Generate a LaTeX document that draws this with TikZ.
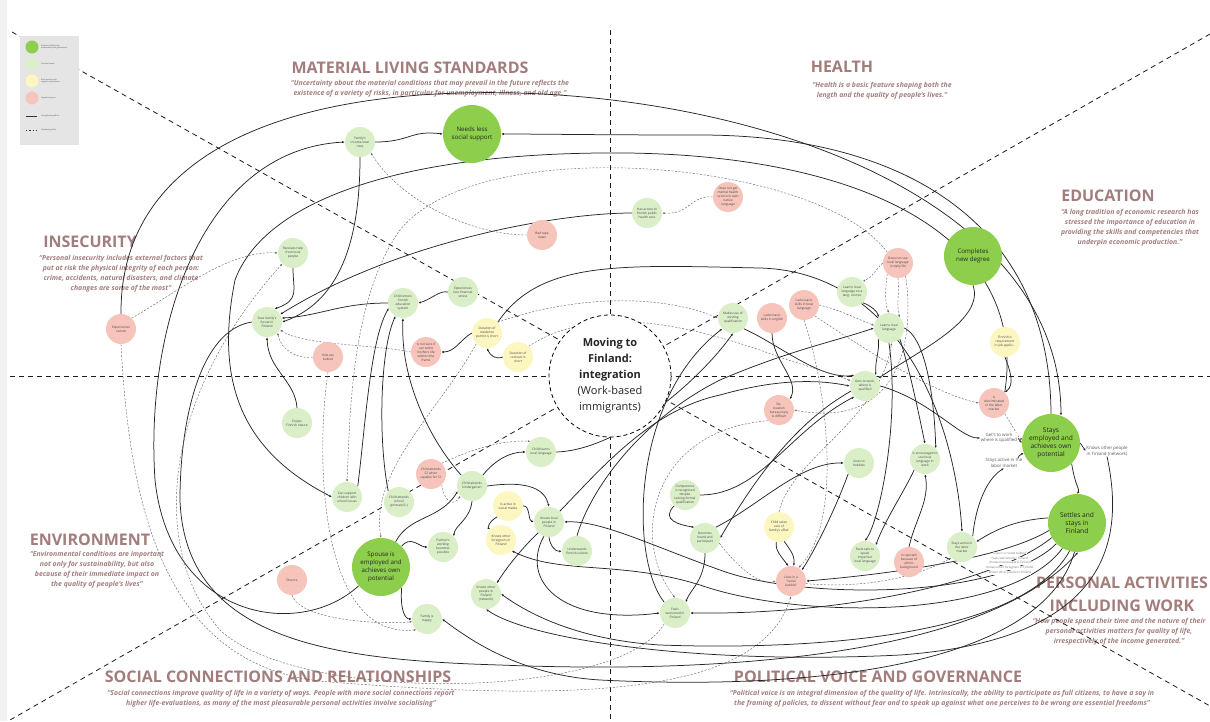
\documentclass[tikz,border=0pt]{standalone}
\usepackage{fontspec}
\setmainfont{Open Sans}
\usetikzlibrary{arrows.meta}
\definecolor{dg}{RGB}{141,206,76}
\definecolor{lg}{RGB}{218,238,200}
\definecolor{yl}{RGB}{252,246,192}
\definecolor{pk}{RGB}{246,196,186}
\definecolor{tt}{RGB}{163,124,124}
\definecolor{tx}{RGB}{70,70,70}
\pgfdeclarelayer{bg}
\pgfsetlayers{bg,main}
\begin{document}
\begin{tikzpicture}[x=1pt,y=-1pt,
  nd/.style={circle,inner sep=0pt,minimum size=30pt,align=center,font=\fontsize{3.2}{4}\selectfont,text=tx},
  lgn/.style={nd,fill=lg}, pkn/.style={nd,fill=pk}, yln/.style={nd,fill=yl},
  dgn/.style={nd,fill=dg,minimum size=58pt,font=\fontsize{6.2}{8}\selectfont,text=black!85},
  sl/.style={draw=black!85,line width=0.75pt,-{Latex[length=2.6pt,width=2.2pt]}},
  dl/.style={draw=black!60,line width=0.45pt,dash pattern=on 2pt off 1.6pt,-{Latex[length=2.4pt,width=2pt]}},
  quad/.style={draw=black!90,line width=0.8pt,dash pattern=on 5pt off 4pt},
  ttl/.style={text=tt,font=\fontsize{16}{18}\selectfont\bfseries,inner sep=0pt},
  qt/.style={text=tt,font=\fontsize{6.9}{10}\selectfont\bfseries\itshape,align=center,inner sep=0pt},
  elab/.style={font=\fontsize{4.4}{5.4}\selectfont,text=black!65,align=center,inner sep=0.6pt,fill=white},
  slab/.style={font=\fontsize{3}{3.4}\selectfont,text=black!55,inner sep=0.2pt,fill=white},
  lgt/.style={font=\fontsize{1.9}{2.4}\selectfont,text=black!70,anchor=west,align=left,inner sep=0pt}
]
\useasboundingbox (0,0) rectangle (1210,721);
\fill[black!5] (0,0) rectangle (7,721);

% ---------- titles, quadrants (background layer)
\begin{pgfonlayer}{bg}
\node[ttl] (t1) at (410,68) {MATERIAL LIVING STANDARDS};
\node[qt] (q1) at (430,89) {“Uncertainty about the material conditions that may prevail in the future reflects the\\existence of a variety of risks, in particular for unemployment, illness, and old age.”};
\node[ttl] (t2) at (842,67) {HEALTH};
\node[qt] (q2) at (882,91) {“Health is a basic feature shaping both the\\length and the quality of people’s lives.”};
\node[ttl] (t3) at (1108,196) {EDUCATION};
\node[qt] (q3) at (1130,228) {“A long tradition of economic research has\\stressed the importance of education in\\providing the skills and competencies that\\underpin economic production.”};
\node[ttl] (t4) at (90,242) {INSECURITY};
\node[qt] (q4) at (121,274) {“Personal insecurity includes external factors that\\put at risk the physical integrity of each person:\\crime, accidents, natural disasters, and climate\\changes are some of the most”};
\node[ttl] (t5) at (90,540) {ENVIRONMENT};
\node[qt] (q5) at (97,570) {“Environmental conditions are important\\not only for sustainability, but also\\because of their immediate impact on\\the quality of people’s lives”};
\node[ttl] (t6) at (278,677) {SOCIAL CONNECTIONS AND RELATIONSHIPS};
\node[qt] (q6) at (281,699) {“Social connections improve quality of life in a variety of ways. People with more social connections report\\higher life-evaluations, as many of the most pleasurable personal activities involve socialising”};
\node[ttl,align=center,font=\fontsize{16}{23}\selectfont\bfseries] (t7) at (1122,594) {PERSONAL ACTIVITIES\\INCLUDING WORK};
\node[qt] (q7) at (1119,632) {“How people spend their time and the nature of their\\personal activities matters for quality of life,\\irrespectively of the income generated.”};
\node[ttl] (t8) at (878,677) {POLITICAL VOICE AND GOVERNANCE};
\node[qt] (q8) at (942,699) {“Political voice is an integral dimension of the quality of life. Intrinsically, the ability to participate as full citizens, to have a say in\\the framing of policies, to dissent without fear and to speak up against what one perceives to be wrong are essential freedoms”};

\coordinate (v1) at (610,30); \coordinate (v2) at (610,721);
\coordinate (h1) at (10,376); \coordinate (h2) at (1210,376);
\coordinate (a1) at (12,32); \coordinate (a2) at (1210,706);
\coordinate (b1) at (1210,34); \coordinate (b2) at (10,720);
\draw[quad] (v1) -- (v2);
\draw[quad] (h1) -- (h2);
\draw[quad] (a1) -- (a2);
\draw[quad] (b1) -- (b2);
\end{pgfonlayer}

% ---------- legend
\node[fill=black!10,minimum width=59pt,minimum height=109pt,inner sep=0pt] (legend) at (49.5,90.5) {};
\node[circle,fill=dg,minimum size=13pt,inner sep=0pt] (k1) at (32,47) {};
\node[circle,fill=lg,minimum size=13pt,inner sep=0pt] (k2) at (32,64) {};
\node[circle,fill=yl,minimum size=13pt,inner sep=0pt] (k3) at (32,81) {};
\node[circle,fill=pk,minimum size=13pt,inner sep=0pt] (k4) at (32,98) {};
\coordinate (k5a) at (26,116); \coordinate (k5b) at (37,116);
\coordinate (k6a) at (26,130); \coordinate (k6b) at (37,130);
\draw[line width=1pt,black!80] (k5a) -- (k5b);
\draw[line width=0.7pt,black!80,dash pattern=on 1.2pt off 2.2pt] (k6a) -- (k6b);
\node[lgt] (l1) at (41,47) {Endpoint, Well-being\\measured by the government};
\node[lgt] (l2) at (41,64) {Positive impact};
\node[lgt] (l3) at (41,81) {Both positive and\\negative implications};
\node[lgt] (l4) at (41,98) {Negative impact};
\node[lgt] (l5) at (41,116) {Strengthening effect};
\node[lgt] (l6) at (41,130) {Weakening effect};

% ---------- center
\node[circle,draw=black,dash pattern=on 4pt off 3pt,line width=0.8pt,fill=white,minimum size=122pt,inner sep=0pt,align=center,font=\fontsize{11}{16}\selectfont,text=black!85] (center) at (610,376) {\textbf{Moving to}\\\textbf{Finland:}\\\textbf{integration}\\(Work-based\\immigrants)};

% ---------- nodes
\node[lgn] (fam) at (360,142) {Family's\\income level\\rises};
\node[dgn] (needs) at (472,134) {Needs less\\social support};
\node[pkn] (bad) at (542,235) {Bad rape\\news};
\node[lgn] (recv) at (293,253) {Receives help\\from local\\people};
\node[lgn] (sees) at (267,322) {Sees family's\\future in\\Finland};
\node[lgn] (cedu) at (403,303) {Child enters\\finnish\\education\\system};
\node[lgn] (stress) at (463,292) {Experiences\\less financial\\stress};
\node[yln] (permit) at (487,333) {Duration of\\residence\\permit is short};
\node[pkn] (bully) at (328,357) {Kids are\\bullied};
\node[pkn] (notsure) at (426,352) {Is not sure if\\can settle\\his/hers life\\within time\\frame};
\node[yln] (contract) at (518,357) {Duration of\\contract is\\short};
\node[pkn] (racism) at (121,329) {Experiences\\racism};
\node[lgn] (nature) at (297,423) {Enjoys\\Finnish nature};
\node[lgn] (supp) at (347,497) {Can support\\children with\\school issues};
\node[pkn] (s2) at (431,474) {Child attends\\S2 when\\capable for S1};
\node[lgn] (school) at (399,502) {Child attends\\school\\(primary/2.)};
\node[lgn] (clang) at (541,452) {Child learns\\local language};
\node[lgn] (kinder) at (472,486) {Child attends\\kindergarten};
\node[yln] (smedia) at (508,506) {Is active in\\social media};
\node[lgn] (klocal) at (549,522) {Knows local\\people in\\Finland};
\node[yln] (kforeign) at (501,540) {Knows other\\foreigners in\\Finland};
\node[lgn] (underst) at (577,551) {Understands\\Finnish culture};
\node[lgn] (network) at (486,594) {Knows other\\people in\\Finland\\(network)};
\node[pkn] (divorce) at (292,580) {Divorce};
\node[dgn] (spouse) at (381,567) {Spouse is\\employed and\\achieves own\\potential};
\node[lgn] (partner) at (443,547) {Partner's\\working\\becomes\\possible};
\node[lgn] (happy) at (427,619) {Family is\\happy};
\node[lgn] (health) at (647,213) {Has access to\\finnish public\\health care};
\node[pkn] (mental) at (728,197) {Does not get\\mental health\\service in own\\native\\language};
\node[pkn] (nodaily) at (898,263) {Does not use\\local language\\in daily life};
\node[lgn] (course) at (852,292) {Learns local\\language on a\\lang. course};
\node[pkn] (lackloc) at (804,305) {Lacks basic\\skills in local\\language};
\node[pkn] (lackeng) at (772,318) {Lacks basic\\skills in english};
\node[lgn] (existing) at (733,318) {Makes use of\\existing\\qualification};
\node[lgn] (learns) at (889,328) {Learns local\\language};
\node[dgn] (degree) at (973,256) {Completes\\new degree};
\node[yln] (finreq) at (1005,342) {Finnish is\\requirement\\in job applic...};
\node[lgn] (getswork) at (865,386) {Gets to work,\\where is\\qualified};
\node[pkn] (reloc) at (779,410) {Re-\\location\\bureaucracy\\is difficult};
\node[pkn] (discrim) at (994,403) {Is\\discriminated\\in the labor\\market};
\node[lgn] (hobbies) at (859,463) {Goes to\\hobbies};
\node[lgn] (encour) at (925,459) {Is encouraged to\\use local\\language in\\work};
\node[lgn] (compet) at (685,495) {Competence\\is recognized\\despite\\lacking formal\\qualification};
\node[yln] (ccare) at (779,527) {Child takes\\care of\\family's affair};
\node[lgn] (heard) at (705,538) {Becomes\\heard and\\participant};
\node[lgn] (safe) at (865,556) {Feels safe to\\speak\\imperfect\\local language};
\node[pkn] (rejected) at (909,562) {Is rejected\\because of\\ethnic\\background};
\node[pkn] (bubble) at (791,581) {Lives in a\\“social\\bubble”};
\node[lgn] (welcomed) at (675,613) {Feels\\welcomed in\\Finland};
\node[lgn] (active) at (962,547) {Stays active in\\the labor\\market};
\node[dgn,font=\fontsize{6.6}{8.2}\selectfont] (employed) at (1051,443) {Stays\\employed and\\achieves own\\potential};
\node[dgn,font=\fontsize{6.6}{8.2}\selectfont] (settles) at (1077,523) {Settles and\\stays in\\Finland};

\node[elab] (lab1) at (999,438) {Get's to work\\where is qualified};
\node[elab] (lab2) at (1004,463) {Stays active in the\\labor market};
\node[elab] (lab3) at (1107,451) {Knows other people\\in Finland (network)};

% labels of the connectors that leave "Settles and stays in Finland"
\node[slab] (sf1) at (1010,553) {Lives in a “social bubble”};
\node[slab] (sf2) at (1010,558) {Feels welcomed in Finland};
\node[slab] (sf3) at (1010,563) {Knows local people in Finland};
\node[slab] (sf4) at (1010,568) {Knows other foreigners in Finland};
\node[slab] (sf5) at (1010,573) {Knows other people in Finland};

% ---------- connectors
\begin{pgfonlayer}{bg}
% solid
\draw[sl] (fam.east) .. controls (410,142) and (410,130) .. (needs.west);
\draw[sl] (fam.south) .. controls (360,230) and (345,300) .. (sees.east);
\draw[sl] (recv.south) .. controls (293,290) and (300,300) .. (sees.60);
\draw[sl] (cedu.west) .. controls (340,303) and (320,316) .. (sees.15);
\draw[sl] (stress.west) .. controls (440,290) and (430,300) .. (cedu.east);
\draw[sl] (health.west) .. controls (560,213) and (400,240) .. (sees.30);
\draw[sl] (racism.north) .. controls (120,190) and (220,110) .. (420,95) .. controls (700,75) and (1060,180) .. (employed.70);
\draw[sl] (employed.north) .. controls (1050,220) and (900,135) .. (700,135) .. controls (600,135) and (540,134) .. (needs.east);
\draw[sl] (discrim.north east) .. controls (1030,230) and (850,150) .. (600,153) .. controls (400,155) and (265,200) .. (235,280) .. controls (215,380) and (240,450) .. (supp.west);
\draw[sl] (spouse.220) .. controls (300,640) and (170,620) .. (155,480) .. controls (145,330) and (200,150) .. (fam.west);
\draw[sl] (sees.west) .. controls (200,330) and (180,420) .. (180,500) .. controls (185,640) and (330,660) .. (500,665) .. controls (750,675) and (990,650) .. (settles.272);
\draw[sl] (nature.north) .. controls (295,380) and (268,370) .. (sees.south);
\draw[sl] (permit.west) .. controls (460,340) and (455,352) .. (notsure.east);
\draw[sl] (contract.west) .. controls (495,360) and (490,355) .. (permit.south);
\draw[sl] (permit.north east) .. controls (540,260) and (620,265) .. (760,268) .. controls (900,272) and (955,420) .. (active.north);
\draw[sl] (supp.north east) .. controls (365,430) and (370,340) .. (cedu.200);
\draw[sl] (school.north west) .. controls (378,440) and (380,350) .. (cedu.240);
\draw[sl] (kinder.north west) .. controls (430,440) and (400,380) .. (cedu.south);
\draw[sl] (spouse.north east) .. controls (410,535) and (420,547) .. (partner.west);
\draw[sl] (spouse.60) .. controls (410,515) and (440,520) .. (kinder.200);
\draw[sl] (spouse.south east) .. controls (400,610) and (405,619) .. (happy.west);
\draw[sl] (kinder.north east) .. controls (495,460) and (510,452) .. (clang.west);
\draw[sl] (kinder.east) .. controls (530,480) and (545,490) .. (klocal.north);
\draw[sl] (kinder.south) .. controls (470,520) and (455,525) .. (partner.north east);
\draw[sl] (smedia.east) .. controls (530,505) and (528,520) .. (klocal.west);
\draw[sl] (smedia.south west) .. controls (488,522) and (488,528) .. (kforeign.north west);
\draw[sl] (klocal.south) .. controls (550,545) and (555,552) .. (underst.west);
\draw[sl] (klocal.south west) .. controls (520,550) and (505,570) .. (network.north east);
\draw[sl] (klocal.250) .. controls (520,580) and (560,625) .. (welcomed.west);
\draw[sl] (klocal.north east) .. controls (600,470) and (650,410) .. (720,395) .. controls (780,378) and (820,380) .. (getswork.west);
\draw[sl] (underst.north) .. controls (590,490) and (640,420) .. (720,380) .. controls (790,350) and (840,340) .. (learns.west);
\draw[sl] (clang.east) .. controls (620,450) and (700,380) .. (existing.south);
\draw[sl] (welcomed.north west) .. controls (630,560) and (630,400) .. (existing.south west);
\draw[sl] (compet.east) .. controls (760,495) and (790,430) .. (getswork.south west);
\draw[sl] (compet.south west) .. controls (660,520) and (680,525) .. (heard.north west);
\draw[sl] (heard.south) .. controls (705,580) and (690,590) .. (welcomed.north east);
\draw[sl] (heard.north east) .. controls (760,505) and (800,462) .. (hobbies.west);
\draw[sl] (getswork.200) .. controls (800,420) and (760,470) .. (heard.east);
\draw[sl] (existing.south east) .. controls (780,345) and (820,380) .. (getswork.north west);
\draw[sl] (lackeng.south) .. controls (772,360) and (800,380) .. (reloc.north east);
\draw[sl] (learns.south west) .. controls (880,350) and (875,360) .. (getswork.north east);
\draw[sl] (course.south east) .. controls (870,305) and (878,312) .. (learns.north west);
\draw[sl] (learns.south east) .. controls (910,370) and (920,420) .. (encour.north);
\draw[sl] (learns.east) .. controls (930,340) and (935,420) .. (encour.north east);
\draw[sl] (encour.south west) .. controls (905,490) and (885,520) .. (safe.north east);
\draw[sl] (learns.south) .. controls (900,420) and (880,520) .. (safe.north);
\draw[sl] (rejected.north) .. controls (915,520) and (930,500) .. (encour.south);
\draw[sl] (hobbies.south west) .. controls (835,510) and (815,550) .. (bubble.north east);
\draw[sl] (ccare.260) .. controls (775,550) and (780,555) .. (bubble.100);
\draw[sl] (ccare.290) .. controls (790,550) and (795,555) .. (bubble.80);
\draw[sl] (degree.south) .. controls (985,320) and (920,350) .. (getswork.30);
\draw[sl] (finreq.south) .. controls (1010,370) and (1015,385) .. (discrim.north east);
\draw[sl] (getswork.east) .. controls (930,400) and (960,438) .. (lab1.west);
\draw[sl] (lab1.east) -- (employed.west);
\draw[sl] (active.north east) .. controls (975,510) and (985,480) .. (lab2.south);
\draw[sl] (lab2.east) .. controls (1015,460) and (1018,456) .. (employed.200);
\draw[sl] (employed.east) -- (lab3.west);
\draw[sl] (lab3.south) .. controls (1125,540) and (1110,640) .. (900,655) .. controls (700,665) and (530,640) .. (network.south);
\draw[sl] (employed.south east) .. controls (1075,485) and (1080,490) .. (settles.north);
\draw[sl] (settles.170) .. controls (1015,520) and (995,530) .. (active.20);
\draw[sl] (settles.195) .. controls (1000,560) and (880,575) .. (bubble.east);
\draw[sl] (settles.210) .. controls (1000,580) and (850,615) .. (welcomed.east);
\draw[sl] (settles.225) .. controls (1000,600) and (800,600) .. (720,570) .. controls (650,545) and (600,520) .. (klocal.east);
\draw[sl] (settles.240) .. controls (1010,620) and (800,620) .. (700,585) .. controls (620,560) and (560,575) .. (kforeign.south east);
\draw[sl] (settles.255) .. controls (1020,640) and (800,650) .. (660,645) .. controls (580,640) and (530,615) .. (network.east);
\draw[sl] (settles.265) .. controls (1040,670) and (800,690) .. (600,680) .. controls (520,675) and (470,640) .. (happy.east);
% dashed
\draw[dl] (bad.west) .. controls (470,235) and (400,200) .. (fam.south east);
\draw[dl] (racism.north east) .. controls (180,290) and (230,250) .. (recv.west);
\draw[dl] (bully.west) .. controls (300,360) and (280,350) .. (sees.south east);
\draw[dl] (notsure.west) .. controls (380,345) and (300,345) .. (sees.330);
\draw[dl] (mental.west) .. controls (690,195) and (690,215) .. (health.east);
\draw[dl] (nodaily.north west) .. controls (820,160) and (480,130) .. (400,230) .. controls (350,300) and (350,420) .. (supp.north);
\draw[dl] (permit.south west) .. controls (440,410) and (370,470) .. (spouse.north);
\draw[dl] (permit.north east) .. controls (560,300) and (650,290) .. (existing.west);
\draw[dl] (contract.north east) .. controls (600,300) and (700,330) .. (760,350) .. controls (800,365) and (830,372) .. (getswork.160);
\draw[dl] (nodaily.west) .. controls (875,270) and (872,278) .. (course.north east);
\draw[dl] (lackloc.east) .. controls (840,310) and (860,320) .. (learns.170);
\draw[dl] (nodaily.south west) .. controls (885,290) and (885,305) .. (learns.north);
\draw[dl] (nodaily.south) .. controls (900,290) and (896,305) .. (learns.north east);
\draw[dl] (nodaily.300) .. controls (915,340) and (900,430) .. (reloc.east);
\draw[dl] (lackloc.south) .. controls (825,380) and (845,520) .. (bubble.60);
\draw[dl] (reloc.south west) .. controls (650,430) and (630,540) .. (welcomed.north);
\draw[dl] (ccare.north) .. controls (790,460) and (880,420) .. (learns.280);
\draw[dl] (heard.340) .. controls (740,570) and (760,585) .. (bubble.west);
\draw[dl] (bubble.350) .. controls (880,590) and (930,570) .. (active.south west);
\draw[dl] (racism.south) .. controls (130,520) and (170,670) .. (330,682) .. controls (560,700) and (760,700) .. (bubble.south);
\draw[dl] (welcomed.south west) .. controls (620,700) and (300,705) .. (220,630) .. controls (150,550) and (160,400) .. (recv.south west);
\draw[dl] (bully.south) .. controls (315,460) and (320,640) .. (happy.south west);
\draw[dl] (divorce.south) .. controls (300,620) and (380,625) .. (happy.190);
\draw[dl] (s2.north east) .. controls (470,450) and (500,440) .. (clang.north west);
\draw[dl] (s2.south east) .. controls (445,505) and (455,505) .. (kinder.220);
\draw[dl] (lackloc.south east) .. controls (880,360) and (940,395) .. (discrim.west);
\draw[dl] (discrim.south east) .. controls (1015,430) and (1020,440) .. (employed.170);
\end{pgfonlayer}
\end{tikzpicture}
\end{document}
